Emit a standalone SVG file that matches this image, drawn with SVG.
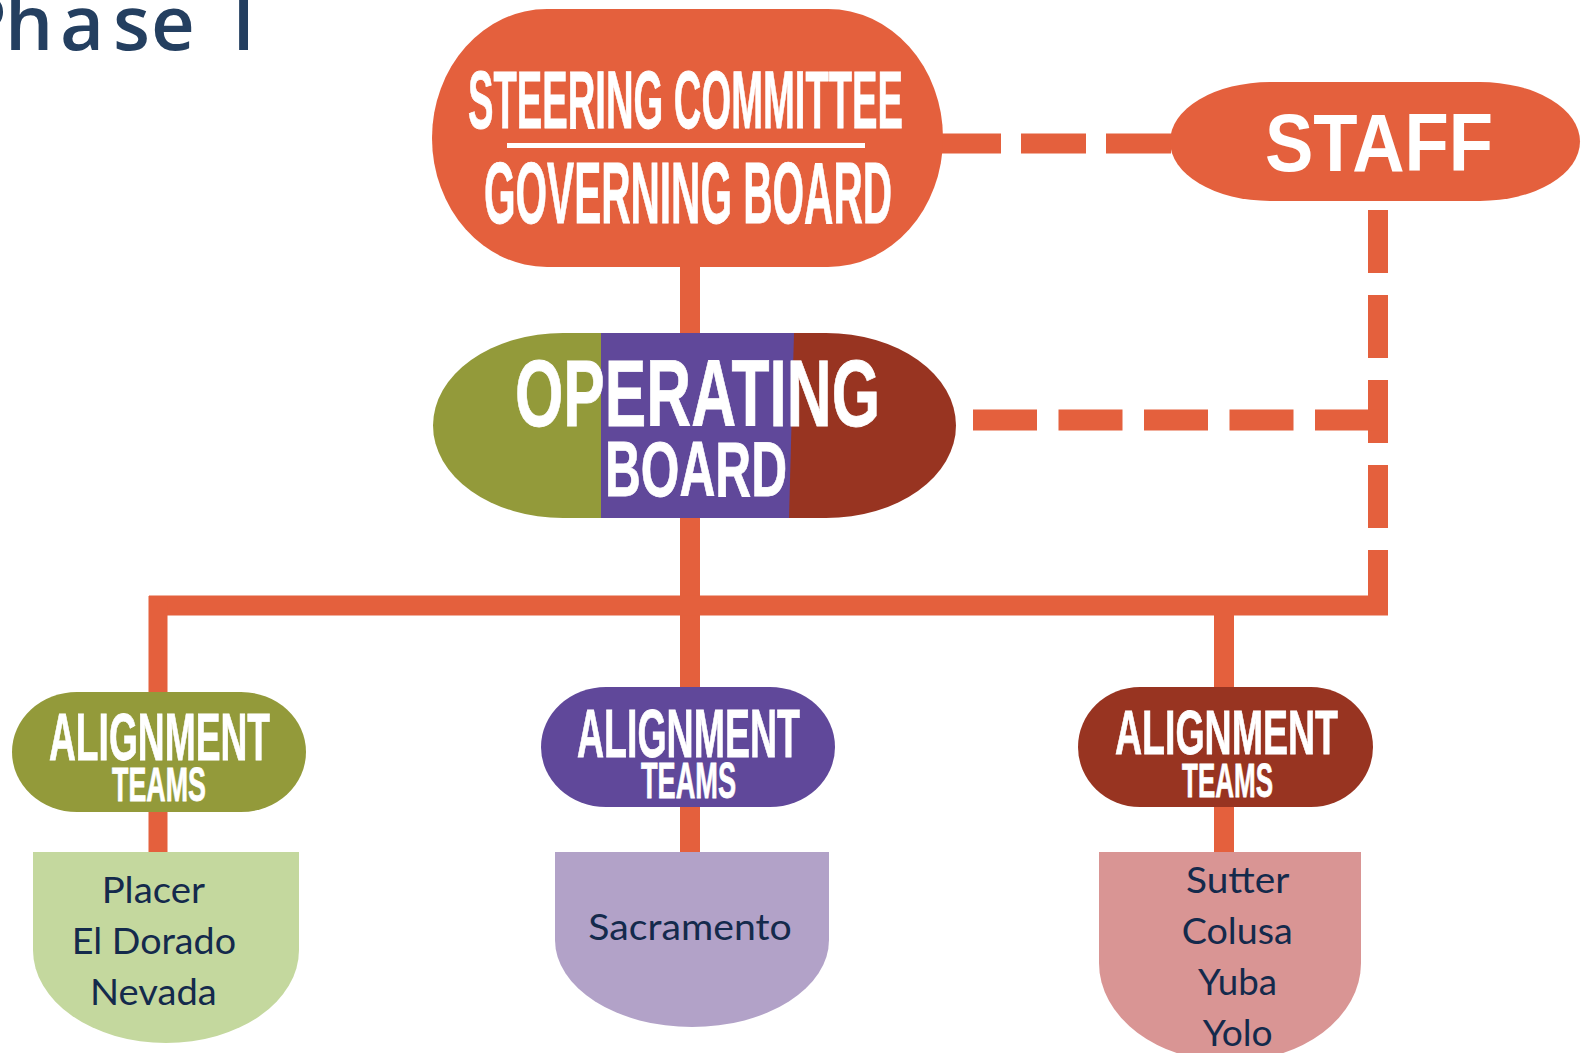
<svg xmlns="http://www.w3.org/2000/svg" width="1585" height="1053" viewBox="0 0 1585 1053">
<style>
.h{font-family:"Liberation Sans Narrow","Liberation Sans",Arial,sans-serif;font-weight:bold;fill:#fff;stroke:#fff;stroke-width:0.8}
.c{font-family:Lato,"Open Sans",sans-serif;font-size:37px;fill:#142A4C}
.solid{fill:none;stroke:#E4603D;stroke-width:20}
.dash{fill:none;stroke:#E4603D;stroke-width:20}
</style>
<defs>
<clipPath id="opclip"><rect x="433" y="333" width="523" height="185" rx="130" ry="92.5"/></clipPath>
</defs>
<rect width="1585" height="1053" fill="#fff"/>
<text x="-40 5 60 113 151 193 232" y="50" font-family="'Open Sans','Noto Sans',sans-serif" font-weight="600" font-size="76" fill="#243F60">Phase I</text>

<g id="connectors">
<path class="solid" d="M690,262 V852"/>
<path class="solid" d="M149,605.5 H1388"/>
<path class="solid" style="stroke-width:19" d="M158,596 V852"/>
<path class="solid" d="M1224,605 V852"/>
<path class="dash" d="M936,143.5 H1172" stroke-dasharray="65 20"/>
<path class="dash" d="M1378,210 V613" stroke-dasharray="63 22"/>
<path class="dash" style="stroke-width:21" d="M973,420 H1380" stroke-dasharray="64 21.5"/>
</g>

<g id="steering">
<rect x="432" y="9" width="511" height="258" rx="115" ry="129" fill="#E4603D"/>
<text class="h" x="468" y="128" font-size="81" textLength="435" lengthAdjust="spacingAndGlyphs">STEERING COMMITTEE</text>
<rect x="507" y="143" width="358" height="5" fill="#fff"/>
<text class="h" x="484" y="223" font-size="87" textLength="408" lengthAdjust="spacingAndGlyphs">GOVERNING BOARD</text>
</g>

<g id="staff">
<rect x="1170" y="82" width="410" height="119" rx="100" ry="59.5" fill="#E4603D"/>
<text x="1265" y="171" font-family="'Liberation Sans',Arial,sans-serif" font-weight="bold" font-size="82" fill="#fff" textLength="228" lengthAdjust="spacingAndGlyphs">STAFF</text>
</g>

<g id="operating">
<g clip-path="url(#opclip)">
<rect x="433" y="333" width="170" height="185" fill="#939A3A"/>
<rect x="780" y="333" width="180" height="185" fill="#983421"/>
<polygon points="601,333 794,333 789,518 601,518" fill="#60489A"/>
</g>
<text class="h" x="515" y="426" font-size="95" textLength="365" lengthAdjust="spacingAndGlyphs">OPERATING</text>
<text class="h" x="605" y="496" font-size="78" textLength="182" lengthAdjust="spacingAndGlyphs">BOARD</text>
</g>

<g id="align-green">
<rect x="12" y="692" width="294" height="120" rx="65" ry="60" fill="#939A3A"/>
<text class="h" x="49" y="760" font-size="67" textLength="221" lengthAdjust="spacingAndGlyphs">ALIGNMENT</text>
<text class="h" x="112" y="801" font-size="49" textLength="94" lengthAdjust="spacingAndGlyphs">TEAMS</text>
</g>

<g id="align-purple">
<rect x="541" y="687" width="294" height="120" rx="65" ry="60" fill="#60489A"/>
<text class="h" x="577" y="757" font-size="68" textLength="223" lengthAdjust="spacingAndGlyphs">ALIGNMENT</text>
<text class="h" x="641" y="798" font-size="50" textLength="95" lengthAdjust="spacingAndGlyphs">TEAMS</text>
</g>

<g id="align-red">
<rect x="1078" y="687" width="295" height="120" rx="62" ry="60" fill="#983421"/>
<text class="h" x="1115" y="754" font-size="63" textLength="223" lengthAdjust="spacingAndGlyphs">ALIGNMENT</text>
<text class="h" x="1182" y="797" font-size="49" textLength="91" lengthAdjust="spacingAndGlyphs">TEAMS</text>
</g>

<g id="box-placer">
<path d="M33,852 H299 V950 A133,93 0 0 1 33,950 Z" fill="#C4D89E"/>
<text class="c" x="101.7" y="903" textLength="103.3" lengthAdjust="spacingAndGlyphs">Placer</text>
<text class="c" x="71.7" y="954" textLength="164.3" lengthAdjust="spacingAndGlyphs">El Dorado</text>
<text class="c" x="90" y="1005" textLength="126.7" lengthAdjust="spacingAndGlyphs">Nevada</text>
</g>

<g id="box-sacramento">
<path d="M555,852 H829 V940 A137,87 0 0 1 555,940 Z" fill="#B2A2C8"/>
<text class="c" x="588.3" y="940" textLength="203.4" lengthAdjust="spacingAndGlyphs">Sacramento</text>
</g>

<g id="box-sutter">
<path d="M1099,852 H1361 V963 A131,98.5 0 0 1 1099,963 Z" fill="#D99594"/>
<text class="c" x="1186" y="893" textLength="103.3" lengthAdjust="spacingAndGlyphs">Sutter</text>
<text class="c" x="1181.7" y="944" textLength="111" lengthAdjust="spacingAndGlyphs">Colusa</text>
<text class="c" x="1198" y="995" textLength="79" lengthAdjust="spacingAndGlyphs">Yuba</text>
<text class="c" x="1202.7" y="1046" textLength="70" lengthAdjust="spacingAndGlyphs">Yolo</text>
</g>
</svg>
